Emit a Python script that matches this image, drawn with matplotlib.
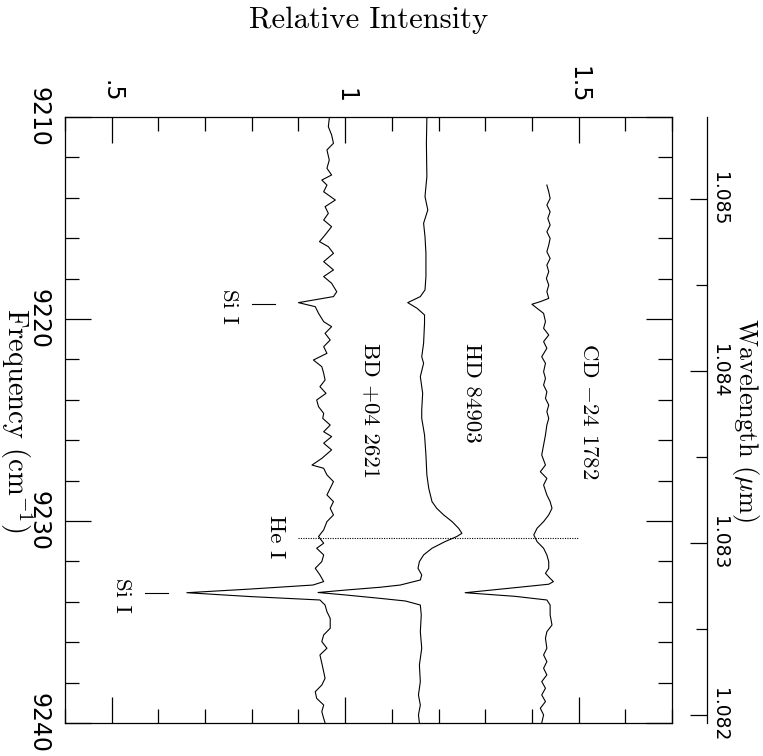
import matplotlib
matplotlib.use("Agg")
import matplotlib.pyplot as plt
from matplotlib.ticker import MultipleLocator, FormatStrFormatter
import numpy as np

plt.rcParams['mathtext.fontset'] = 'cm'
SERIF = ['cmr10', 'DejaVu Serif']

# Spectra: frequency (cm^-1) and relative intensity.
bd_freq = [9210.07, 9210.48, 9210.89, 9211.30, 9211.63, 9212.13, 9212.54, 9212.87, 9213.12, 9213.37,
           9213.70, 9214.11, 9214.44, 9214.77, 9215.10, 9215.43, 9215.84, 9216.17, 9216.42, 9216.75,
           9217.16, 9217.57, 9217.90, 9218.23, 9218.65, 9218.89, 9219.19, 9219.39, 9219.72, 9220.13,
           9220.38, 9220.71, 9221.04, 9221.37, 9221.70, 9222.03, 9222.36, 9222.69, 9223.02, 9223.35,
           9223.68, 9224.01, 9224.34, 9224.67, 9224.92, 9225.25, 9225.58, 9225.82, 9226.15, 9226.48,
           9226.90, 9227.23, 9227.39, 9227.72, 9228.05, 9228.38, 9228.71, 9229.04, 9229.37, 9229.70,
           9230.03, 9230.44, 9230.77, 9231.10, 9231.35, 9231.68, 9232.01, 9232.34, 9232.67, 9233.00,
           9233.17, 9233.37, 9233.55, 9233.74, 9233.91, 9234.16, 9234.49, 9234.82, 9235.31, 9235.64,
           9235.97, 9236.30, 9236.63, 9237.04, 9237.46, 9237.79, 9238.12, 9238.45, 9238.78, 9239.11,
           9239.44, 9239.77, 9240.00]
bd_int = [0.966, 0.964, 0.971, 0.975, 0.961, 0.966, 0.961, 0.971, 0.950, 0.961,
          0.954, 0.979, 0.957, 0.964, 0.954, 0.971, 0.957, 0.945, 0.964, 0.975,
          0.954, 0.975, 0.954, 0.971, 0.982, 0.975, 0.900, 0.936, 0.943, 0.954,
          0.971, 0.957, 0.968, 0.954, 0.961, 0.932, 0.950, 0.954, 0.957, 0.946,
          0.959, 0.939, 0.943, 0.954, 0.952, 0.968, 0.954, 0.971, 0.954, 0.971,
          0.950, 0.929, 0.954, 0.961, 0.975, 0.968, 0.961, 0.975, 0.968, 0.975,
          0.961, 0.954, 0.943, 0.954, 0.939, 0.954, 0.950, 0.936, 0.946, 0.954,
          0.931, 0.796, 0.661, 0.796, 0.946, 0.957, 0.961, 0.968, 0.968, 0.954,
          0.950, 0.961, 0.946, 0.950, 0.954, 0.957, 0.950, 0.936, 0.939, 0.954,
          0.950, 0.954, 0.957]

hd_freq = [9210.07, 9211.30, 9212.95, 9213.94, 9214.60, 9215.26, 9215.92, 9216.75, 9217.90, 9218.56,
           9218.89, 9219.19, 9219.47, 9219.80, 9220.21, 9221.20, 9221.87, 9222.19, 9222.85, 9223.68,
           9224.50, 9224.92, 9225.74, 9226.73, 9227.72, 9228.38, 9229.04, 9229.37, 9229.70, 9230.03,
           9230.36, 9230.61, 9230.77, 9231.02, 9231.35, 9231.68, 9232.01, 9232.34, 9232.67, 9232.92,
           9233.17, 9233.28, 9233.42, 9233.54, 9233.66, 9233.83, 9233.96, 9234.16, 9234.65, 9235.48,
           9236.30, 9237.13, 9237.95, 9238.61, 9239.11, 9239.60, 9240.00]
hd_int = [1.175, 1.174, 1.175, 1.171, 1.177, 1.168, 1.171, 1.173, 1.173, 1.171,
          1.161, 1.134, 1.154, 1.170, 1.170, 1.168, 1.164, 1.168, 1.161, 1.166,
          1.164, 1.164, 1.170, 1.173, 1.175, 1.179, 1.186, 1.196, 1.211, 1.229,
          1.243, 1.250, 1.239, 1.214, 1.186, 1.168, 1.159, 1.156, 1.164, 1.161,
          1.118, 1.075, 1.000, 0.942, 1.000, 1.075, 1.129, 1.161, 1.163, 1.161,
          1.164, 1.159, 1.161, 1.157, 1.161, 1.157, 1.159]

cd_freq = [9213.37, 9213.70, 9214.03, 9214.36, 9214.69, 9215.02, 9215.35, 9215.68, 9216.01, 9216.34,
           9216.67, 9217.00, 9217.33, 9217.66, 9217.99, 9218.32, 9218.65, 9218.98, 9219.14, 9219.27,
           9219.47, 9219.72, 9220.13, 9220.46, 9220.79, 9221.12, 9221.45, 9221.87, 9222.19, 9222.61,
           9222.94, 9223.27, 9223.60, 9223.93, 9224.26, 9224.59, 9224.92, 9225.25, 9225.74, 9226.24,
           9226.73, 9227.23, 9227.56, 9227.89, 9228.22, 9228.71, 9229.04, 9229.37, 9229.70, 9230.03,
           9230.36, 9230.69, 9231.02, 9231.35, 9231.68, 9232.01, 9232.34, 9232.59, 9232.84, 9233.00,
           9233.13, 9233.30, 9233.55, 9233.73, 9233.91, 9234.16, 9234.65, 9235.15, 9235.48, 9235.81,
           9236.30, 9236.63, 9236.96, 9237.29, 9237.62, 9237.95, 9238.28, 9238.61, 9238.94, 9239.27,
           9239.60, 9240.00]
cd_int = [1.432, 1.436, 1.439, 1.432, 1.439, 1.434, 1.439, 1.432, 1.439, 1.436,
          1.432, 1.439, 1.432, 1.436, 1.431, 1.436, 1.432, 1.436, 1.418, 1.400,
          1.411, 1.425, 1.429, 1.425, 1.436, 1.425, 1.432, 1.421, 1.429, 1.425,
          1.429, 1.425, 1.432, 1.429, 1.436, 1.432, 1.436, 1.432, 1.429, 1.425,
          1.421, 1.429, 1.418, 1.432, 1.425, 1.432, 1.439, 1.443, 1.436, 1.425,
          1.411, 1.404, 1.411, 1.425, 1.432, 1.436, 1.436, 1.429, 1.439, 1.446,
          1.436, 1.364, 1.257, 1.364, 1.432, 1.439, 1.439, 1.443, 1.432, 1.429,
          1.432, 1.425, 1.432, 1.425, 1.432, 1.421, 1.429, 1.421, 1.429, 1.418,
          1.425, 1.421]

star_names = ["BD +04 2621", "HD 84903", "CD $-$24 1782"]
star_label_x = [1.054, 1.272, 1.521]
star_label_top = 9221.2

# line identifications
he_freq = 9230.86
he_span = (0.90, 1.50)
si_freq = [9219.26, 9233.58]
si_span = [(0.80, 0.85), (0.571, 0.621)]
si_label_x = [0.751, 0.522]
he_label_x = 0.852

int_ticks = [0.5, 1.0, 1.5]
int_labels = [".5", "1", "1.5"]
freq_ticks = [9210, 9220, 9230, 9240]

AIR_N = 1.000274  # air refractive index for the wavelength scale


def nu_to_wl(nu):
    nu = np.asarray(nu, dtype=float)
    with np.errstate(divide='ignore', invalid='ignore'):
        return 1e4 / (nu * AIR_N)


fig = plt.figure(figsize=(7.63, 7.56), dpi=100)
ax = fig.add_axes([65 / 763, 33 / 756, 607 / 763, 606 / 756])

for f, i in [(bd_freq, bd_int), (hd_freq, hd_int), (cd_freq, cd_int)]:
    ax.plot(i, f, color='black', lw=0.8)

ax.plot(he_span, [he_freq, he_freq], color='black', lw=0.8, ls=(0, (1, 1.2)))
for f, (a, b) in zip(si_freq, si_span):
    ax.plot([a, b], [f, f], color='black', lw=0.8)

for name, x in zip(star_names, star_label_x):
    ax.text(x, star_label_top, name, rotation=-90, ha='center', va='top',
            family=SERIF, fontsize=16.5)
for f, x in zip(si_freq, si_label_x):
    ax.text(x, f + 0.12, "Si I", rotation=-90, ha='center', va='center',
            family=SERIF, fontsize=16.5)
ax.text(he_label_x, he_freq - 0.07, "He I", rotation=-90, ha='center', va='center',
        family=SERIF, fontsize=16.5)

ax.set_xlim(0.4, 1.7)
ax.set_ylim(9240, 9210)

ax.set_xticks(int_ticks, labels=int_labels)
ax.xaxis.set_minor_locator(MultipleLocator(0.1))
ax.set_yticks(freq_ticks, labels=[str(t) for t in freq_ticks])
ax.yaxis.set_minor_locator(MultipleLocator(2))

ax.tick_params(axis='both', which='both', direction='in', top=True, bottom=True,
               left=True, right=True, width=0.9, colors='black')
ax.tick_params(axis='x', labeltop=True, labelbottom=False, labelrotation=-90,
               labelsize=17, pad=10)
ax.tick_params(axis='y', labelleft=True, labelright=False, labelrotation=-90,
               labelsize=17, pad=10.5)
ax.tick_params(which='major', length=19)
ax.tick_params(which='minor', length=10)
for lbl in ax.get_xticklabels():
    lbl.set_ha('center')
    lbl.set_va('bottom')
for lbl in ax.get_yticklabels():
    lbl.set_ha('right')
    lbl.set_va('center')
for s in ax.spines.values():
    s.set_linewidth(0.9)

sec = ax.secondary_yaxis((707 - 65) / 607, functions=(nu_to_wl, nu_to_wl))
sec.yaxis.set_major_locator(MultipleLocator(0.001))
sec.yaxis.set_minor_locator(MultipleLocator(0.0005))
sec.yaxis.set_major_formatter(FormatStrFormatter('%.3f'))
sec.tick_params(which='both', direction='in', width=0.9, labelsize=13.5, pad=2,
                labelrotation=-90)
sec.tick_params(which='major', length=12)
sec.tick_params(which='minor', length=8)
for s in sec.spines.values():
    s.set_linewidth(0.9)
for lbl in sec.get_yticklabels():
    lbl.set_ha('left')
    lbl.set_va('center')

fig.text(368.5 / 763, 1 - 20 / 756, "Relative Intensity", ha='center', va='center',
         family=SERIF, fontsize=22)
fig.text(16 / 763, 1 - 420 / 756, "Frequency (cm$^{-1}$)", rotation=-90, ha='center',
         va='center', family=SERIF, fontsize=20.5)
fig.text(745 / 763, 1 - 420 / 756, r"Wavelength ($\mu$m)", rotation=-90, ha='center',
         va='center', family=SERIF, fontsize=19)

fig.savefig("out.png", dpi=100)
